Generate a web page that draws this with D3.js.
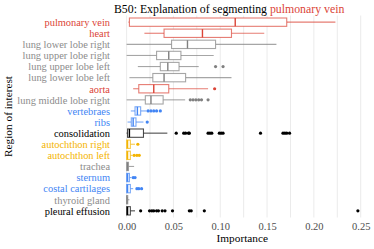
<!DOCTYPE html>
<html>
<head>
<meta charset="utf-8">
<script src="https://cdn.jsdelivr.net/npm/d3@7"></script>
<style>
  body { margin: 0; background: #fff; }
</style>
</head>
<body>
<svg width="374" height="249"></svg>
<script>
/* values */
const regions = ["pulmonary vein", "heart", "lung lower lobe right", "lung upper lobe right",
    "lung upper lobe left", "lung lower lobe left", "aorta", "lung middle lobe right",
    "vertebraes", "ribs", "consolidation", "autochthon right", "autochthon left",
    "trachea", "sternum", "costal cartilages", "thyroid gland", "pleural effusion"];
const groups = ["red", "red", "gray", "gray", "gray", "gray", "red", "gray",
    "blue", "blue", "black", "yellow", "yellow", "gray", "blue", "blue", "gray", "black"];
const whiskerLo = [0.002, 0.019, 0.000, 0.000, 0.012, 0.003, 0.007, 0.000,
    0.0045, 0.001, 0.000, 0.000, 0.000, 0.000, 0.000, 0.000, 0.000, 0.000];
const q1 = [0.003, 0.040, 0.048, 0.032, 0.036, 0.028, 0.013, 0.020,
    0.009, 0.005, 0.001, 0.000, 0.000, 0.000, 0.000, 0.000, 0.000, 0.000];
const median = [0.116, 0.081, 0.065, 0.045, 0.044, 0.040, 0.029, 0.026,
    0.0115, 0.007, 0.003, 0.001, 0.001, 0.001, 0.001, 0.001, 0.0005, 0.001];
const q3 = [0.171, 0.112, 0.095, 0.058, 0.056, 0.063, 0.045, 0.039,
    0.015, 0.010, 0.018, 0.004, 0.004, 0.002, 0.003, 0.004, 0.0012, 0.004];
const whiskerHi = [0.223, 0.147, 0.160, 0.093, 0.077, 0.112, 0.087, 0.0625,
    0.0215, 0.018, 0.0435, 0.009, 0.006, 0.008, 0.005, 0.007, 0.003, 0.009];
const outliers = [[], [], [], [], [0.095, 0.103], [], [0.094],
    [0.068, 0.071, 0.074, 0.077, 0.080, 0.087],
    [0.023, 0.026, 0.029, 0.032, 0.036],
    [0.022],
    [0.053, 0.061, 0.063, 0.066, 0.067, 0.087, 0.089, 0.091, 0.099, 0.101, 0.103, 0.143, 0.167, 0.169, 0.171, 0.174],
    [0.012],
    [0.008, 0.011, 0.0135],
    [],
    [0.007, 0.009],
    [0.011, 0.013, 0.016],
    [],
    [0.015, 0.0245, 0.027, 0.029, 0.032, 0.034, 0.038, 0.041, 0.049, 0.067, 0.069, 0.083, 0.247]];
const xTicks = [0, 0.05, 0.10, 0.15, 0.20, 0.25];
const xGrid = [0, 0.025, 0.05, 0.075, 0.10, 0.125, 0.15, 0.175, 0.20, 0.225, 0.25];

const palette = { red: "#DB4437", gray: "#808080", blue: "#4285F4", yellow: "#F4B400", black: "#000000" };
const labelColor = { red: "#DB4437", gray: "#8c8c8c", blue: "#4285F4", yellow: "#F4B400", black: "#000000" };
const serif = "'Liberation Serif', 'Times New Roman', serif";

const svg = d3.select("svg");
const margin = { top: 15.5, right: 4.5, bottom: 31.5, left: 115 };
const width = 374 - margin.left - margin.right;
const height = 249 - margin.top - margin.bottom;

const g = svg.append("g").attr("transform", `translate(${[margin.left, margin.top]})`);

const x = d3.scaleLinear().domain([-0.0124, 0.2594]).range([0, width]);
const y = d3.scalePoint().domain(regions).range([0, height]).padding(0.6);
const band = y.step() * 0.75;

// vertical grid lines
g.append("g").selectAll("line").data(xGrid).join("line")
    .attr("x1", (d) => x(d)).attr("x2", (d) => x(d))
    .attr("y1", 0).attr("y2", height)
    .attr("stroke", "#ebebeb").attr("stroke-width", 1);

// boxes
const rows = regions.map((r, i) => ({
    name: r, col: palette[groups[i]], lo: whiskerLo[i], q1: q1[i], med: median[i],
    q3: q3[i], hi: whiskerHi[i], out: outliers[i]
}));

const box = g.append("g").selectAll("g").data(rows).join("g")
    .attr("transform", (d) => `translate(0,${y(d.name)})`);

box.append("line")
    .attr("x1", (d) => x(d.lo)).attr("x2", (d) => x(d.q1))
    .attr("stroke", (d) => d.col).attr("stroke-opacity", 0.7).attr("stroke-width", 1.1);
box.append("line")
    .attr("x1", (d) => x(d.q3)).attr("x2", (d) => x(d.hi))
    .attr("stroke", (d) => d.col).attr("stroke-opacity", 0.7).attr("stroke-width", 1.1);
box.append("rect")
    .attr("x", (d) => x(d.q1)).attr("width", (d) => Math.max(0.5, x(d.q3) - x(d.q1)))
    .attr("y", -band / 2).attr("height", band)
    .attr("fill", "#fff").attr("stroke", (d) => d.col).attr("stroke-opacity", 0.7)
    .attr("stroke-width", 1.1);
box.append("line")
    .attr("x1", (d) => x(d.med)).attr("x2", (d) => x(d.med))
    .attr("y1", -band / 2).attr("y2", band / 2)
    .attr("stroke", (d) => d.col).attr("stroke-width", 1.4);
box.selectAll("circle").data((d) => d.out.map((v) => ({ v: v, col: d.col }))).join("circle")
    .attr("cx", (d) => x(d.v)).attr("cy", 0).attr("r", 1.6)
    .attr("fill", (d) => d.col);

// axes
const xAxis = g.append("g").attr("transform", `translate(0,${height})`)
    .call(d3.axisBottom(x).tickValues(xTicks).tickFormat(d3.format(".2f")).tickSize(0).tickPadding(5));
xAxis.select(".domain").remove();
xAxis.selectAll("text").style("font-family", serif).style("font-size", "10.5px").attr("fill", "#4d4d4d");

const yAxis = g.append("g")
    .call(d3.axisLeft(y).tickSize(0).tickPadding(5));
yAxis.select(".domain").remove();
yAxis.selectAll("text").style("font-family", serif).style("font-size", "10.4px")
    .attr("fill", (d, i) => labelColor[groups[i]]);

// titles
svg.append("text")
    .attr("x", margin.left - 1).attr("y", 13)
    .style("font-family", serif).style("font-size", "11.8px")
    .text("B50: Explanation of segmenting ")
  .append("tspan")
    .attr("fill", palette.red)
    .text("pulmonary vein");

svg.append("text")
    .attr("x", margin.left + width / 2).attr("y", 241.5)
    .attr("text-anchor", "middle")
    .style("font-family", serif).style("font-size", "11.3px")
    .text("Importance");

svg.append("text")
    .attr("transform", `translate(${[11.5, margin.top + height / 2]}) rotate(-90)`)
    .attr("text-anchor", "middle")
    .style("font-family", serif).style("font-size", "11.3px")
    .text("Region of interest");
</script>
</body>
</html>
